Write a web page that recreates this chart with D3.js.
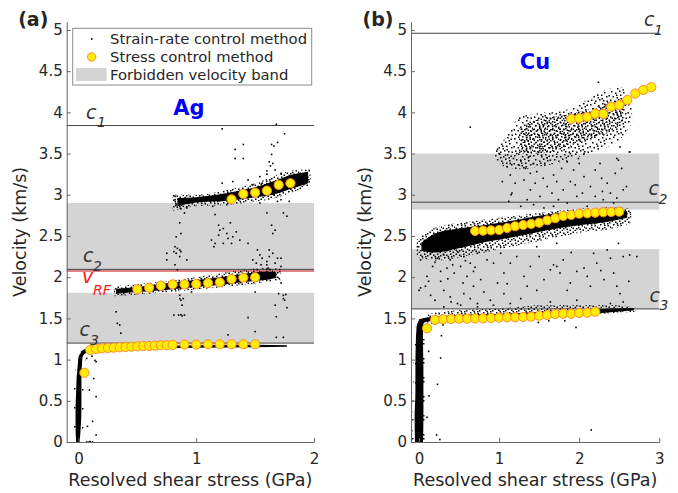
<!DOCTYPE html>
<html><head><meta charset="utf-8">
<script src="https://cdn.jsdelivr.net/npm/d3@7"></script>
<style>body{margin:0;background:#fff}svg{display:block;font-family:"DejaVu Sans",sans-serif}</style>
</head><body><svg id="c" width="678" height="493"></svg>
<script>
// ---------------- DATA ----------------
const yTicks = [0,0.5,1,1.5,2,2.5,3,3.5,4,4.5,5];
const agXTicks = [0,1,2];
const cuXTicks = [0,1,2,3];
const legendLabels = ["Strain-rate control method","Stress control method","Forbidden velocity band"];

// forbidden velocity bands [low, high] (km/s)
const agBands = [[1.2,1.81],[2.07,2.9]];
const cuBands = [[1.615,2.34],[2.82,3.5]];
// characteristic velocities c1,c2,c3
const agC = [3.84, 2.095, 1.2];
const cuC = [4.96, 2.91, 1.615];
const agVRF = 2.075;

// stress control method (GPa, km/s)
const agLowS = [0.05,0.1,0.15,0.2,0.25,0.3,0.35,0.4,0.45,0.5,0.55,0.6,0.65,0.7,0.75,0.8,0.9,1.0,1.1,1.2,1.3,1.4,1.5];
const agLowV = [0.84,1.117,1.129,1.137,1.141,1.145,1.149,1.153,1.157,1.161,1.165,1.165,1.17,1.174,1.174,1.178,1.182,1.182,1.186,1.186,1.186,1.186,1.186];
const agMidS = [0.5,0.6,0.7,0.8,0.9,1.0,1.1,1.2,1.3,1.4,1.5];
const agMidV = [1.853,1.873,1.897,1.913,1.913,1.917,1.929,1.937,1.978,1.994,1.998];
const agHighS = [1.3,1.4,1.5,1.6,1.7,1.8];
const agHighV = [2.945,3.01,3.026,3.05,3.12,3.14];
const cuLowS = [0.1,0.2,0.3,0.4,0.5,0.6,0.7,0.8,0.9,1.0,1.1,1.2,1.3,1.4,1.5,1.6,1.7,1.8,1.9,2.0,2.1,2.2];
const cuLowV = [1.38,1.481,1.489,1.493,1.497,1.497,1.50,1.50,1.505,1.509,1.513,1.513,1.517,1.521,1.533,1.541,1.553,1.557,1.557,1.566,1.57,1.581];
const cuMidS = [0.7,0.8,0.9,1.0,1.1,1.2,1.3,1.4,1.5,1.6,1.7,1.8,1.9,2.0,2.1,2.2,2.3,2.4,2.5];
const cuMidV = [2.561,2.564,2.569,2.573,2.597,2.618,2.633,2.646,2.661,2.69,2.715,2.743,2.755,2.771,2.775,2.783,2.788,2.791,2.795];
const cuHighS = [1.9,2.0,2.1,2.2,2.3,2.4,2.5,2.6,2.7,2.8,2.9];
const cuHighV = [3.92,3.928,3.944,3.984,3.981,4.069,4.09,4.15,4.227,4.272,4.305];

// strain-rate control method: dense cores read as envelopes [stress, vLow, vHigh]
const agCoreLow = [[0.02,1.03,1.10],[0.06,1.08,1.13],[0.12,1.10,1.135],[0.2,1.11,1.14],[0.5,1.13,1.16],[1.0,1.145,1.175],[1.5,1.15,1.18],[1.77,1.155,1.175]];
const agCoreMid = [[0.32,1.80,1.86],[0.5,1.82,1.88],[0.8,1.855,1.935],[1.0,1.88,1.965],[1.2,1.905,2.0],[1.4,1.94,2.04],[1.6,1.97,2.07],[1.68,1.99,2.06]];
const agCoreHigh = [[0.84,2.86,2.96],[1.0,2.905,2.97],[1.3,2.93,3.03],[1.5,2.97,3.09],[1.65,3.0,3.16],[1.8,3.07,3.24],[1.95,3.14,3.28]];
const agFringeMid = [[0.3,1.77,1.89],[0.6,1.8,1.93],[1.0,1.85,2.0],[1.3,1.89,2.07],[1.6,1.94,2.11],[1.72,1.97,2.1]];
const agFringeHigh = [[0.8,2.8,3.0],[1.0,2.86,3.0],[1.3,2.88,3.07],[1.5,2.92,3.14],[1.65,2.95,3.22],[1.8,3.02,3.29],[1.97,3.12,3.31]];
// vertical cores [v, stressLow, stressHigh]
const agCoreVert = [[0.0,-0.02,0.01],[0.2,-0.025,0.02],[0.4,-0.025,0.025],[0.6,-0.02,0.025],[0.8,-0.015,0.025],[0.95,-0.005,0.03],[1.03,0.0,0.035],[1.08,0.02,0.06]];
const agFringeVert = [[0.0,-0.04,0.04],[0.5,-0.04,0.05],[1.0,-0.02,0.06]];

const cuCoreVert = [[0.0,-0.05,0.05],[0.3,-0.055,0.055],[0.6,-0.045,0.055],[0.9,-0.045,0.055],[1.2,-0.04,0.05],[1.4,-0.03,0.05],[1.48,0.0,0.08]];
const cuFringeVert = [[0.0,-0.09,0.09],[0.5,-0.08,0.1],[1.0,-0.07,0.1],[1.4,-0.05,0.1]];
const cuCoreLow = [[0.0,1.42,1.49],[0.1,1.46,1.51],[0.3,1.48,1.53],[0.8,1.495,1.55],[1.4,1.51,1.57],[2.0,1.545,1.60],[2.4,1.575,1.62],[2.68,1.595,1.625]];
const cuFringeLow = [[0.1,1.43,1.56],[0.5,1.46,1.6],[1.0,1.48,1.62],[1.5,1.5,1.66],[2.0,1.53,1.66],[2.5,1.57,1.66],[2.7,1.58,1.63]];
const cuCoreMid = [[0.03,2.32,2.42],[0.2,2.30,2.53],[0.5,2.35,2.59],[0.8,2.42,2.63],[1.2,2.49,2.69],[1.6,2.57,2.76],[2.0,2.63,2.79],[2.4,2.68,2.815],[2.6,2.72,2.80]];
const cuFringeMid = [[-0.03,2.25,2.45],[0.2,2.20,2.60],[0.6,2.26,2.67],[1.0,2.34,2.72],[1.5,2.44,2.78],[2.0,2.54,2.83],[2.5,2.61,2.85],[2.65,2.66,2.82]];
const cuCloudHigh = [[0.95,3.40,3.55],[1.1,3.33,3.72],[1.25,3.31,3.94],[1.5,3.34,3.99],[1.8,3.40,4.02],[2.05,3.48,4.13],[2.3,3.56,4.26],[2.5,3.66,4.31],[2.66,3.87,4.12]];
const cuCloudCore = [[1.25,3.5,3.8],[1.5,3.5,3.92],[1.9,3.6,3.98],[2.2,3.7,4.06],[2.45,3.8,4.14],[2.55,3.9,4.1]];

// strain-rate control method: isolated points [stress, v]
const agPts = [[1.22,3.80],[1.68,3.855],[1.75,3.74],[1.40,3.61],[1.33,3.55],[1.33,3.44],[1.40,3.44],[1.64,3.61],[1.66,3.59],[1.69,3.635],[1.64,3.49],[1.62,3.40],[1.65,3.38],[1.63,3.35],[1.60,3.29],[1.67,3.30],[1.60,3.25],[1.72,3.26],[1.22,3.14],[1.31,3.16],[1.44,3.18],[1.48,3.12],[1.54,3.22],[1.56,3.14],[1.76,3.08],[1.79,2.92],[1.72,2.94],[1.66,3.0],[0.82,2.98],[0.82,2.94],[0.86,2.86],[0.92,2.84],[1.26,2.88],[1.37,2.98],[1.47,3.06],
[0.83,2.88],[0.87,2.83],[0.89,2.90],[0.90,2.78],[0.86,2.66],[0.87,2.53],[0.83,2.49],[0.82,2.37],[0.84,2.35],[0.86,2.33],[0.87,2.31],[0.81,2.31],[0.83,2.29],[0.75,2.29],[0.86,2.25],[0.82,2.15],[0.92,2.21],[1.12,2.92],[1.14,2.86],[1.16,2.76],[1.19,2.63],[1.20,2.57],[1.23,2.59],[1.26,2.53],[1.29,2.66],[1.31,2.49],[1.34,2.55],[1.37,2.45],[1.13,2.45],[1.16,2.41],[1.23,2.41],[1.30,2.41],[1.19,2.51],[1.27,2.47],[1.15,2.37],[1.44,2.41],[1.54,2.90],[1.60,2.78],[1.64,2.63],[1.67,2.57],[1.65,2.53],[1.74,2.78],[1.77,2.74],[1.69,2.92],[1.52,2.33],[1.54,2.27],[1.56,2.23],[1.60,2.19],[1.62,2.25],[1.65,2.29],[1.69,2.23],[1.67,2.17],[1.60,2.15],[1.55,2.15],[1.51,2.17],[1.72,2.13],[1.48,2.21],[1.61,2.11],[1.62,2.33],[1.72,2.23],[0.75,2.21],[1.72,1.93],[1.76,1.79],[1.74,1.74],[0.84,2.09],[0.86,1.74],[0.89,1.74],
[0.33,1.83],[0.32,1.58],[0.33,1.44],[0.35,1.42],[0.36,1.32],[0.86,1.78],[0.87,1.72],[0.88,1.66],[0.81,1.54],[0.85,1.54],[0.88,1.53],[0.90,1.54],[0.87,1.545],[0.96,1.82],[1.50,1.82],[1.27,1.30],[1.44,1.51],[1.50,1.34],[1.67,1.66],[1.74,1.78],[1.75,1.72],[1.77,1.63],[1.68,1.52],[1.68,1.27],[1.74,1.27],[1.70,1.80],
[0.07,1.015],[0.115,1.04],[0.15,0.975],[0.13,0.77],[0.093,0.63],[0.15,0.55],[0.12,0.25],[0.076,0.19],[0.15,0.085],[0.07,0.0],[0.12,0.0],[0.09,0.0],[0.14,0.99],[0.10,0.005]];

const cuPts = [[0.64,3.82],[2.24,4.365],[2.63,3.52],[2.47,3.44],[2.51,3.58],[0.98,3.55],[1.0,3.5],[1.02,3.45],[1.15,3.0],
[1.08,3.48],[1.14,3.38],[1.22,3.50],[1.27,3.42],[1.33,3.32],[1.37,3.46],[1.43,3.38],[1.47,3.28],[1.53,3.48],[1.57,3.36],[1.64,3.42],[1.68,3.24],[1.72,3.46],[1.78,3.32],[1.85,3.40],[1.89,3.16],[1.14,3.24],[1.20,3.14],[1.31,3.18],[1.39,3.06],[1.45,3.14],[1.51,2.98],[1.60,3.10],[1.66,3.02],[1.74,2.94],[1.80,3.06],[1.93,3.30],[2.00,3.38],[2.06,3.22],[2.14,3.10],[2.20,3.30],[2.26,3.38],[2.35,3.14],[2.39,3.02],[2.45,3.26],[2.49,3.42],[2.53,3.32],[2.59,3.10],[2.63,3.52],[2.43,2.90],[2.30,2.94],[2.10,2.86],[1.97,2.98],[1.85,2.90],[1.68,2.86],[1.56,2.84],[1.43,2.88],[1.35,2.94],[1.27,2.86],[1.12,2.92],[1.10,3.34],[1.04,3.16],[1.16,3.02],[1.39,3.26],[1.72,3.16],[2.04,3.02],[2.20,2.98],[2.29,3.04],[2.47,2.96],[2.55,3.06],[2.06,3.50],[1.89,3.50],[1.25,3.36],[1.55,3.20],[1.95,3.12],[2.28,3.20],[1.18,3.44],[1.60,3.45],[1.99,3.44],
[0.145,2.29],[0.23,2.23],[0.31,2.27],[0.39,2.21],[0.48,2.31],[0.56,2.25],[0.64,2.17],[0.73,2.29],[0.17,2.13],[0.27,2.07],[0.35,2.11],[0.44,2.05],[0.52,2.13],[0.60,2.01],[0.68,2.07],[0.77,1.97],[0.10,2.01],[0.08,1.89],[0.00,1.84],[0.145,1.78],[0.31,1.84],[0.39,1.76],[0.48,1.68],[0.56,1.80],[0.64,1.74],[0.73,1.68],[0.81,1.82],[0.89,1.72],[0.98,1.93],[1.06,2.05],[1.14,2.17],[1.22,2.25],[1.31,2.01],[1.39,2.13],[1.47,1.84],[1.56,1.97],[1.64,2.09],[1.68,2.15],[1.72,2.13],[1.76,2.05],[1.80,2.21],[1.89,1.93],[1.97,2.07],[2.06,2.11],[2.14,1.89],[2.22,2.17],[2.31,1.97],[2.39,2.23],[2.47,1.89],[2.51,1.80],[2.55,2.25],[2.63,2.27],[2.72,2.25],[2.18,2.29],[2.35,2.33],[2.49,2.41],[1.72,2.41],[1.47,2.37],[1.27,1.74],[1.64,1.70],[1.97,1.72],[2.39,1.68],[2.55,1.70],[1.14,1.68],[0.93,1.66],[0.73,1.64],[0.52,1.66],[0.31,1.64],[1.35,1.89],[1.85,1.84],[2.10,2.01],[2.43,2.05],[0.93,2.17],[0.85,2.21],[1.02,2.29],[1.06,1.80],[0.68,1.89],[0.27,1.95],[0.02,2.21],[-0.02,2.37],[0.02,1.87],[0.20,2.18],[0.42,2.15],[0.58,2.20],[0.70,2.12],[0.36,1.98],[0.12,1.95],[0.55,1.93],[1.10,1.92],[1.50,2.25],[1.90,2.30],[2.27,2.08],[2.62,1.95],[0.20,1.72],[0.40,1.70],
[0.28,1.29],[0.27,1.02],[0.23,0.70],[0.125,0.56],[0.22,0.085],[0.26,0.03],[2.15,0.146],[1.96,1.39],[1.49,1.45],[1.62,1.47],[1.82,1.47],[0.30,1.42],[0.12,1.10],[0.10,0.30]];

// ---------------- DRAWING ----------------
const svg = d3.select("#c");
const defs = svg.append("defs");
function makePattern(id, w, h, dots, r){
  const p = defs.append("pattern").attr("id",id).attr("patternUnits","userSpaceOnUse")
    .attr("width",w).attr("height",h);
  dots.forEach(d=>p.append("rect").attr("x",d[0]).attr("y",d[1]).attr("width",r).attr("height",r).attr("fill","#000"));
}
makePattern("dotsM",19,17,[[1,2],[5,0.5],[9,3],[13,1],[16.5,2.5],[3,6],[7,7.5],[11,5.5],[15,7],[0.5,10],[4.5,11],[8.5,12],[12,9.5],[17,11],[2,14.5],[6,15.5],[10,14],[14,15],[17.5,15.5],[12.5,13],[8,9.5],[14.5,4]],1.5);
makePattern("dotsD",13,11,[[0.5,0.5],[4,1.5],[8,0.5],[11,2],[2,4],[6,4.5],[9.5,5],[12,6.5],[0.5,7.5],[4,8],[7.5,8.5],[10.5,9.5],[2.5,9.8],[6,6.8],[5.5,2.8],[9,3]],1.5);
makePattern("dotsS",23,19,[[1,2],[9,1],[17,4],[5,8],[13,9],[20,12],[2,14],[9,16],[16,17],[21,1]],1.5);

const y = d3.scaleLinear().domain([0,5.1]).range([442,21.7]);
const bandColor = "#d4d4d4", lineColor = "#444", textColor = "#262626";

const panels = [
  {tag:"(a)", name:"Ag", r:[66.7,314], dom:[-0.1,2], xt:agXTicks, bands:agBands, c:agC,
   cx:[86,83,79.5], cxSub:[97,93,90], titleX:189, titleY:115,
   cores:[agCoreLow,agCoreMid,agCoreHigh], fringes:[agFringeMid,agFringeHigh], vcore:agCoreVert, vfringe:agFringeVert,
   clouds:[], cloudCores:[], pts:agPts,
   ctrl:[[agLowS,agLowV],[agMidS,agMidV],[agHighS,agHighV]]},
  {tag:"(b)", name:"Cu", r:[411,659.3], dom:[-0.1,3], xt:cuXTicks, bands:cuBands, c:cuC,
   cx:[644,648.5,649.5], cxSub:[654,658.5,659.5], titleX:535, titleY:69,
   cores:[cuCoreLow,cuCoreMid], fringes:[cuFringeLow,cuFringeMid], vcore:cuCoreVert, vfringe:cuFringeVert,
   clouds:[cuCloudHigh], cloudCores:[cuCloudCore], pts:cuPts,
   ctrl:[[cuLowS,cuLowV],[cuMidS,cuMidV],[cuHighS,cuHighV]]}
];

panels.forEach((P,pi)=>{
  const x = d3.scaleLinear().domain(P.dom).range(P.r);
  const g = svg.append("g");
  g.selectAll(".band").data(P.bands).join("rect")
    .attr("x",P.r[0]).attr("width",P.r[1]-P.r[0])
    .attr("y",d=>y(d[1])).attr("height",d=>y(d[0])-y(d[1])).attr("fill",bandColor);
  g.selectAll(".cl").data(P.c).join("line")
    .attr("x1",P.r[0]).attr("x2",P.r[1]).attr("y1",d=>y(d)).attr("y2",d=>y(d))
    .attr("stroke",lineColor).attr("stroke-width",1);
  if(pi===0){
    g.append("line").attr("x1",P.r[0]).attr("x2",P.r[1]).attr("y1",y(agVRF)).attr("y2",y(agVRF))
      .attr("stroke","#e06060").attr("stroke-width",1.5);
  }
  const areaH = d3.area().x(d=>x(d[0])).y0(d=>y(d[1])).y1(d=>y(d[2])).curve(d3.curveMonotoneX);
  const areaV = d3.area().y(d=>y(d[0])).x0(d=>x(d[1])).x1(d=>x(d[2])).curve(d3.curveMonotoneY);
  P.clouds.forEach(cd=>g.append("path").attr("d",areaH(cd)).attr("fill","url(#dotsM)"));
  P.cloudCores.forEach(cd=>g.append("path").attr("d",areaH(cd)).attr("fill","url(#dotsD)"));
  P.fringes.forEach(cd=>g.append("path").attr("d",areaH(cd)).attr("fill","url(#dotsD)"));
  g.append("path").attr("d",areaV(P.vfringe)).attr("fill","url(#dotsS)");
  P.cores.forEach(cd=>g.append("path").attr("d",areaH(cd)).attr("fill","#000"));
  g.append("path").attr("d",areaV(P.vcore)).attr("fill","#000");
  g.selectAll(".pt").data(P.pts).join("rect")
    .attr("x",d=>x(d[0])-0.8).attr("y",d=>y(d[1])-0.8).attr("width",1.6).attr("height",1.6).attr("fill","#000");
  P.ctrl.forEach(([S,V])=>{
    g.selectAll(null).data(S.map((s,i)=>[s,V[i]])).join("circle")
      .attr("cx",d=>x(d[0])).attr("cy",d=>y(d[1])).attr("r",4.6)
      .attr("fill","#ffee00").attr("stroke","#ff8a2a").attr("stroke-width",1);
  });
  const ax = g.append("g").attr("transform",`translate(${P.r[0]},0)`)
    .call(d3.axisLeft(y).tickValues(yTicks).tickFormat(d3.format("~g")).tickSizeInner(-4).tickSizeOuter(0).tickPadding(4));
  const bx = g.append("g").attr("transform",`translate(0,${y(0)})`)
    .call(d3.axisBottom(x).tickValues(P.xt).tickFormat(d3.format("~g")).tickSizeInner(-4).tickSizeOuter(0).tickPadding(11));
  [ax,bx].forEach(a=>{
    a.select(".domain").attr("stroke","#666");
    a.selectAll(".tick line").attr("stroke","#666");
    a.selectAll("text").attr("fill",textColor).attr("font-size",15).attr("font-family","DejaVu Sans");
  });
  P.c.forEach((cv,i)=>{
    g.append("text").attr("x",P.cx[i]).attr("y",y(cv)-7).attr("font-style","italic")
      .attr("font-size",19).attr("fill","#333").text("c");
    g.append("text").attr("x",P.cxSub[i]).attr("y",y(cv)+1.5).attr("font-style","italic")
      .attr("font-size",14).attr("fill","#333").text(String(i+1));
  });
  if(pi===0){
    g.append("text").attr("x",82).attr("y",283).attr("font-style","italic").attr("font-size",19).attr("fill","#ff2020").text("v");
    g.append("text").attr("x",93).attr("y",295).attr("font-style","italic").attr("font-size",14).attr("fill","#ff2020").text("RF");
  }
  g.append("text").attr("x",P.titleX).attr("y",P.titleY).attr("text-anchor","middle")
    .attr("font-weight","bold").attr("font-size",21).attr("fill","#0000ff").text(P.name);
  g.append("text").attr("x",P.r[0]-48.5).attr("y",26).attr("font-weight","bold").attr("font-size",19)
    .attr("fill","#262626").text(P.tag);
  g.append("text").attr("x",(P.r[0]+P.r[1])/2).attr("y",486).attr("text-anchor","middle")
    .attr("font-size",17.5).attr("fill",textColor).text("Resolved shear stress (GPa)");
  g.append("text").attr("transform",`translate(${P.r[0]-40.5},${(y(0)+y(5.1))/2}) rotate(-90)`)
    .attr("text-anchor","middle").attr("font-size",17.5).attr("fill",textColor).text("Velocity (km/s)");
});

const lg = svg.append("g");
lg.append("rect").attr("x",72.7).attr("y",28.3).attr("width",239).attr("height",56.7)
  .attr("fill","#fff").attr("stroke","#8c8c8c").attr("stroke-width",1);
lg.append("rect").attr("x",91).attr("y",38.2).attr("width",1.6).attr("height",1.6).attr("fill","#000");
lg.append("circle").attr("cx",91.7).attr("cy",57).attr("r",4.2).attr("fill","#ffee00").attr("stroke","#ff8a2a");
lg.append("rect").attr("x",76).attr("y",68).attr("width",30.7).attr("height",13).attr("fill",bandColor);
lg.selectAll(".lt").data(legendLabels).join("text")
  .attr("x",110).attr("y",(d,i)=>44+i*18).attr("font-size",14.8).attr("fill",textColor).text(d=>d);
</script></body></html>
